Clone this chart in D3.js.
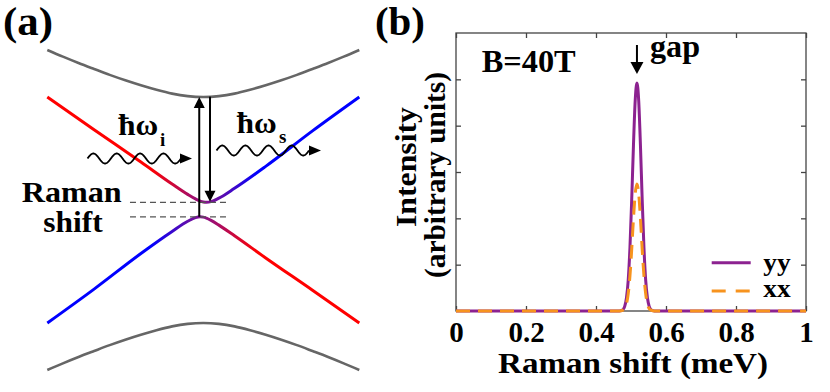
<!DOCTYPE html>
<html>
<head>
<meta charset="utf-8">
<script src="https://cdn.jsdelivr.net/npm/d3@7"></script>
<style>
  html, body { margin: 0; padding: 0; background: #fff; }
  svg { display: block; }
</style>
</head>
<body>
<svg id="chart" width="830" height="392"></svg>
<script>
// ---------- Panel (a): schematic band data ----------
const bandK = [-1, -0.9, -0.8, -0.7, -0.6, -0.5, -0.4, -0.3, -0.2, -0.1, 0, 0.1, 0.2, 0.3, 0.4, 0.5, 0.6, 0.7, 0.8, 0.9, 1];
const upperBandE = [1.416, 1.357, 1.301, 1.248, 1.196, 1.148, 1.104, 1.064, 1.030, 1.008, 1.0, 1.008, 1.030, 1.064, 1.104, 1.148, 1.196, 1.248, 1.301, 1.357, 1.416];
const lowerBandE = [-1.416, -1.357, -1.301, -1.248, -1.196, -1.148, -1.104, -1.064, -1.030, -1.008, -1.0, -1.008, -1.030, -1.064, -1.104, -1.148, -1.196, -1.248, -1.301, -1.357, -1.416];
const branchK = [-1, -0.7, -0.4, -0.2, -0.1, -0.05, -0.02, 0, 0.02, 0.05, 0.1, 0.2, 0.4, 0.7, 1];
const upperBranchE = [1.0, 0.71, 0.425, 0.230, 0.138, 0.098, 0.079, 0.071, 0.068, 0.074, 0.105, 0.192, 0.386, 0.70, 1.0];
const lowerBranchE = [-1.0, -0.70, -0.385, -0.190, -0.10, -0.067, -0.06, -0.063, -0.072, -0.092, -0.134, -0.228, -0.424, -0.71, -1.0];
const shiftLevels = [0.068, -0.06];
const shiftRangeK = [-0.47, 0.158];
const upArrowK = -0.026, downArrowK = 0.043;
const upArrowE = [-0.06, 1.0];
const downArrowE = [1.003, 0.072];

// ---------- Panel (b): Raman spectrum data ----------
const ramanShift = [0, 0.467, 0.477, 0.482, 0.487, 0.492, 0.497, 0.502, 0.507, 0.512, 0.517, 0.522, 0.527, 0.532, 0.537, 0.542, 0.547, 0.552, 0.557, 0.567, 1];
const intensityYY = [0, 0, 0.03, 0.10, 0.28, 0.66, 1.37, 2.40, 3.57, 4.54, 4.92, 4.54, 3.57, 2.40, 1.37, 0.66, 0.28, 0.10, 0.03, 0, 0];
const intensityXX = [0, 0, 0.02, 0.05, 0.15, 0.37, 0.76, 1.33, 1.99, 2.53, 2.74, 2.53, 1.99, 1.33, 0.76, 0.37, 0.15, 0.05, 0.02, 0, 0];
const xTickValues = [0, 0.2, 0.4, 0.6, 0.8, 1];
const xTickLabels = ["0", "0.2", "0.4", "0.6", "0.8", "1"];
const yTickValues = [1, 2, 3, 4, 5];
const gapPosition = 0.517;
const seriesNames = ["yy", "xx"];

(function () {
const FONT = "'Liberation Serif', Tinos, 'Times New Roman', Times, serif";
const svg = d3.select("#chart");
const defs = svg.append("defs");

// ================= Panel (a) =================
const xA = d3.scaleLinear().domain([-1, 1]).range([47.3, 359.3]);
const yA = d3.scaleLinear().domain([-1, 1]).range([323, 97]);
const lineA = d3.line().x(d => xA(d[0])).y(d => yA(d[1])).curve(d3.curveMonotoneX);
const gA = svg.append("g");

function grad(id, cols) {
  const g = defs.append("linearGradient").attr("id", id)
    .attr("gradientUnits", "userSpaceOnUse")
    .attr("x1", 150).attr("x2", 258).attr("y1", 0).attr("y2", 0);
  g.append("stop").attr("offset", 0).attr("stop-color", cols[0]);
  g.append("stop").attr("offset", 0.5).attr("stop-color", cols[1]);
  g.append("stop").attr("offset", 1).attr("stop-color", cols[2]);
}
grad("gUpper", ["#ff0000", "#8a1288", "#0000ff"]);
grad("gLower", ["#0000ff", "#8a1288", "#ff0000"]);

gA.append("path").attr("d", lineA(d3.zip(bandK, upperBandE)))
  .attr("fill", "none").attr("stroke", "#666").attr("stroke-width", 2.6);
gA.append("path").attr("d", lineA(d3.zip(bandK, lowerBandE)))
  .attr("fill", "none").attr("stroke", "#666").attr("stroke-width", 2.6);
gA.append("path").attr("d", lineA(d3.zip(branchK, upperBranchE)))
  .attr("fill", "none").attr("stroke", "url(#gUpper)").attr("stroke-width", 3);
gA.append("path").attr("d", lineA(d3.zip(branchK, lowerBranchE)))
  .attr("fill", "none").attr("stroke", "url(#gLower)").attr("stroke-width", 3);

shiftLevels.forEach(e => {
  gA.append("line")
    .attr("x1", xA(shiftRangeK[0])).attr("x2", xA(shiftRangeK[1]))
    .attr("y1", yA(e)).attr("y2", yA(e))
    .attr("stroke", "#555").attr("stroke-width", 1.3).attr("stroke-dasharray", "6,4");
});

function arrowHead(g, x, y, dir, len, half) {
  let pts;
  if (dir === "r") pts = [[x, y], [x - len, y - half], [x - len, y + half]];
  else pts = [[x, y], [x - half, y - dir * len], [x + half, y - dir * len]];
  g.append("path").attr("d", "M" + pts.map(p => p.join(",")).join("L") + "Z").attr("fill", "#000");
}

{
  const x = xA(upArrowK), y0 = yA(upArrowE[0]), y1 = yA(upArrowE[1]);
  gA.append("line").attr("x1", x).attr("x2", x).attr("y1", y0).attr("y2", y1 + 9)
    .attr("stroke", "#000").attr("stroke-width", 2);
  arrowHead(gA, x, y1, -1, 11, 5.5);
}
{
  const x = xA(downArrowK), y0 = yA(downArrowE[0]), y1 = yA(downArrowE[1]);
  gA.append("line").attr("x1", x).attr("x2", x).attr("y1", y0).attr("y2", y1 - 9)
    .attr("stroke", "#000").attr("stroke-width", 2);
  arrowHead(gA, x, y1, 1, 11, 5.5);
}

function wave(x0, x1, yc, periods, amp) {
  const n = 200, pts = [];
  for (let i = 0; i <= n; i++) {
    const t = i / n;
    pts.push([x0 + (x1 - x0) * t, yc - amp * Math.sin(2 * Math.PI * periods * t)]);
  }
  gA.append("path").attr("d", d3.line()(pts)).attr("fill", "none")
    .attr("stroke", "#000").attr("stroke-width", 1.8);
}
wave(87.5, 181, 158.5, 4, 5);
arrowHead(gA, 192, 158.5, "r", 12, 5);
wave(216.5, 309, 150.5, 4, 5);
arrowHead(gA, 321, 150.5, "r", 12, 5);

function txt(g, s, x, y, size, len, anchor) {
  const t = g.append("text").attr("x", x).attr("y", y)
    .attr("font-family", FONT).attr("font-weight", "bold").attr("fill", "#000")
    .attr("font-size", size).text(s);
  if (len) t.attr("textLength", len).attr("lengthAdjust", "spacingAndGlyphs");
  if (anchor) t.attr("text-anchor", anchor);
  return t;
}
txt(svg, "(a)", 3, 35, 40, 50);
txt(gA, "ħω", 118.3, 135, 30, 40);
txt(gA, "i", 160, 146, 19);
txt(gA, "ħω", 236.7, 133, 30, 40);
txt(gA, "s", 279, 143, 19);
txt(gA, "Raman", 21.7, 202.3, 29, 100);
txt(gA, "shift", 43.3, 231.7, 29, 59.4);

// ================= Panel (b) =================
txt(svg, "(b)", 375, 35, 40, 50);
const pL = 456, pR = 806, pT = 33, pB = 311;
const xB = d3.scaleLinear().domain([0, 1]).range([pL, pR]);
const yB = d3.scaleLinear().domain([0, 6]).range([pB, pT]);
const gB = svg.append("g");

const axisColor = "#444";
function styleAxis(g) {
  g.select(".domain").remove();
  g.selectAll(".tick line").attr("stroke", axisColor).attr("stroke-width", 1.3);
}
gB.append("g").attr("transform", `translate(0,${pB})`)
  .call(d3.axisBottom(xB).tickValues(xTickValues).tickSize(-5).tickPadding(10)
    .tickFormat((d, i) => xTickLabels[i]))
  .call(styleAxis)
  .call(g => g.attr("font-family", FONT).attr("font-size", 29).attr("font-weight", "bold"))
  .call(g => g.selectAll("text").attr("fill", "#000"));
gB.append("g").attr("transform", `translate(0,${pT})`)
  .call(d3.axisTop(xB).tickValues(xTickValues).tickSize(-5).tickFormat(""))
  .call(styleAxis);
gB.append("g").attr("transform", `translate(${pL},0)`)
  .call(d3.axisLeft(yB).tickValues(yTickValues).tickSize(-5).tickFormat(""))
  .call(styleAxis);
gB.append("g").attr("transform", `translate(${pR},0)`)
  .call(d3.axisRight(yB).tickValues(yTickValues).tickSize(-5).tickFormat(""))
  .call(styleAxis);
gB.append("rect").attr("x", pL).attr("y", pT).attr("width", pR - pL).attr("height", pB - pT)
  .attr("fill", "none").attr("stroke", axisColor).attr("stroke-width", 1.3);

const lineB = d3.line().x(d => xB(d[0])).y(d => yB(d[1])).curve(d3.curveMonotoneX);
const colYY = "#8c2290", colXX = "#f7931e";
gB.append("path").attr("d", lineB(d3.zip(ramanShift, intensityYY)))
  .attr("fill", "none").attr("stroke", colYY).attr("stroke-width", 3);
gB.append("path").attr("d", lineB(d3.zip(ramanShift, intensityXX)))
  .attr("fill", "none").attr("stroke", colXX).attr("stroke-width", 3).attr("stroke-dasharray", "14,8");

gB.append("line").attr("x1", 711.7).attr("x2", 750.7).attr("y1", 262.7).attr("y2", 262.7)
  .attr("stroke", colYY).attr("stroke-width", 3);
gB.append("line").attr("x1", 711.7).attr("x2", 750.7).attr("y1", 291).attr("y2", 291)
  .attr("stroke", colXX).attr("stroke-width", 3).attr("stroke-dasharray", "14,10");
txt(gB, seriesNames[0], 763.3, 270.5, 26, 27.4);
txt(gB, seriesNames[1], 763.3, 297, 26, 27.4);

txt(gB, "B=40T", 481.7, 71.7, 32, 94);
txt(gB, "gap", 650, 56.7, 32, 50);
{
  const x = xB(gapPosition);
  gB.append("line").attr("x1", x).attr("x2", x).attr("y1", 45).attr("y2", 64)
    .attr("stroke", "#000").attr("stroke-width", 2);
  arrowHead(gB, x, 74, 1, 12, 6.5);
}

txt(gB, "Raman shift (meV)", 633, 373.3, 30, 270, "middle");
txt(gB, "Intensity", 0, 0, 30, 120, "middle").attr("x", null).attr("y", null)
  .attr("transform", "translate(416,167) rotate(-90)");
txt(gB, "(arbitrary units)", 0, 0, 30, 206, "middle").attr("x", null).attr("y", null)
  .attr("transform", "translate(445,175) rotate(-90)");
})();
</script>
</body>
</html>
